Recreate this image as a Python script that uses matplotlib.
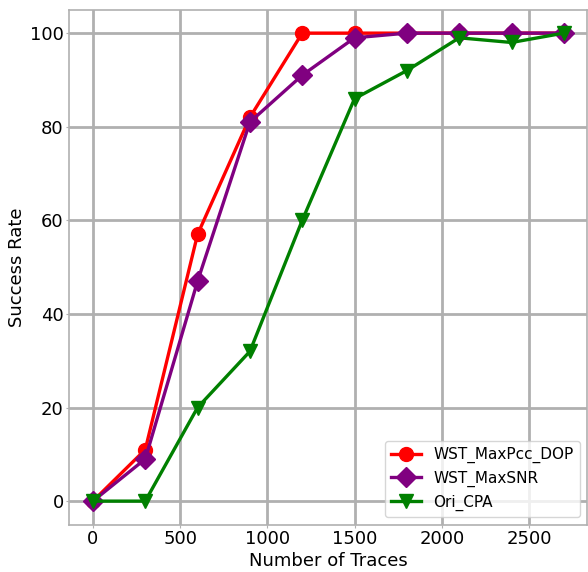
import matplotlib
matplotlib.use("Agg")
import matplotlib.pyplot as plt

traces = [0, 300, 600, 900, 1200, 1500, 1800, 2100, 2400, 2700]
wst_maxpcc_dop = [0, 11, 57, 82, 100, 100, 100, 100, 100, 100]
wst_maxsnr = [0, 9, 47, 81, 91, 99, 100, 100, 100, 100]
ori_cpa = [0, 0, 20, 32, 60, 86, 92, 99, 98, 100]

plt.rcParams["font.family"] = "DejaVu Sans"
fig = plt.figure(figsize=(5.88, 5.72), dpi=100)
ax = fig.add_axes([0.118, 0.083, 0.881, 0.900])

ax.plot(traces, wst_maxpcc_dop, color="red", marker="o", markersize=10,
        linewidth=2.4, label="WST_MaxPcc_DOP")
ax.plot(traces, wst_maxsnr, color="purple", marker="D", markersize=10,
        linewidth=2.4, label="WST_MaxSNR")
ax.plot(traces, ori_cpa, color="green", marker="v", markersize=10,
        linewidth=2.4, label="Ori_CPA")

ax.set_xlim(-135, 2835)
ax.set_ylim(-5, 105)
ax.set_xticks([0, 500, 1000, 1500, 2000, 2500])
ax.set_yticks([0, 20, 40, 60, 80, 100])
ax.grid(True, color="#b0b0b0", linewidth=2)
ax.set_axisbelow(True)
for s in ax.spines.values():
    s.set_color("#b0b0b0")
    s.set_linewidth(1.2)
ax.tick_params(labelsize=13, colors="#b0b0b0", labelcolor="black",
               length=2, pad=2)

ax.set_xlabel("Number of Traces", fontsize=13, labelpad=3)
ax.set_ylabel("Success Rate", fontsize=13, labelpad=3)
ax.legend(loc="lower right", fontsize=11)

fig.savefig("out.png", dpi=100)
